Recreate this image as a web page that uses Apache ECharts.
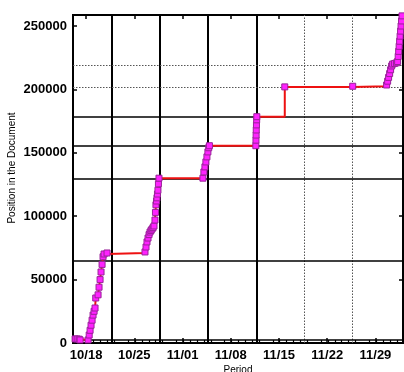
<!DOCTYPE html>
<html>
<head>
<meta charset="utf-8">
<script src="https://cdn.jsdelivr.net/npm/echarts@6/dist/echarts.min.js"></script>
<style>
html,body{margin:0;padding:0;background:#fff;}
#c{width:404px;height:372px;}
</style>
</head>
<body>
<div id="c"></div>
<script>
// Tick labels (x axis: days counted from 10/18)
const xTickLabels = ['10/18','10/25','11/01','11/08','11/15','11/22','11/29'];
const xTickDays = [0, 7, 14, 21, 28, 35, 42];
const yTicks = [0, 50000, 100000, 150000, 200000, 250000];

// Reference lines
const eventDaysSolid = [3.7, 10.7, 17.7, 24.7];
const eventDaysDotted = [31.7, 38.7];
const sectionSolid = [2500, 64900, 129900, 155600, 178500];
const sectionDotted = [201600, 218700];

// Series: day offset from 10/18 and position in the document
const dayOffsets = [
  -1.59, -1.30, -1.01, -0.87,
  0.29, 0.45, 0.58, 0.72, 0.87, 1.01, 1.16, 1.30,
  1.40,
  1.74, 1.88, 2.03, 2.17, 2.32, 2.46, 2.61, 3.04,
  8.55, 8.70, 8.84, 8.99, 9.14, 9.28, 9.43, 9.57, 9.72, 9.86, 10.00, 10.07, 10.14, 10.22, 10.29, 10.36, 10.43, 10.50, 10.58,
  16.96, 17.10, 17.25, 17.39, 17.54, 17.68, 17.80, 17.90,
  24.64, 24.66, 24.68, 24.70, 24.73, 24.76, 24.78,
  28.84,
  38.70,
  43.62, 43.77, 43.91, 44.06, 44.20, 44.35, 44.50, 44.78, 45.07,
  45.22, 45.30, 45.37, 45.44, 45.51, 45.58, 45.65, 45.72, 45.79, 45.86
];
const positions = [
  3200, 3200, 3000, 2400,
  2400, 6300, 10000, 14000, 18000, 22000, 25000, 27600,
  35500,
  38000, 44000, 50000, 56000, 62000, 68000, 70200, 71000,
  71800, 75700, 79700, 82800, 85500, 87500, 88800, 89900, 91000, 92300, 97000, 103000, 109000, 112000, 114500, 117500, 120500, 125500, 130000,
  130000, 134900, 138900, 142800, 146800, 150700, 154000, 155600,
  155600, 160000, 164000, 168000, 172000, 176000, 178500,
  202000,
  202500,
  203500, 206500, 209500, 212500, 215500, 218500, 220000, 220500, 221000,
  222000, 226000, 230000, 234000, 238000, 242000, 246000, 250000, 254000, 258000
];

const seriesData = dayOffsets.map((d, i) => [d, positions[i]]);

const solidStyle = {color: '#000', width: 1.6, type: 'solid'};
const dottedStyle = {color: '#555', width: 1, type: [1.5, 1.5]};
const markData = []
  .concat(eventDaysSolid.map(v => ({xAxis: v, lineStyle: Object.assign({}, solidStyle, {width: 2})})))
  .concat(eventDaysDotted.map(v => ({xAxis: v, lineStyle: dottedStyle})))
  .concat(sectionSolid.map(v => ({yAxis: v, lineStyle: solidStyle})))
  .concat(sectionDotted.map(v => ({yAxis: v, lineStyle: dottedStyle})));

const FONT = 'Liberation Sans';
const xMin = -1.9, xMax = 46.0, yMin = 0, yMax = 258700;

const chart = echarts.init(document.getElementById('c'), null, {renderer: 'canvas'});
chart.setOption({
  animation: false,
  backgroundColor: '#fff',
  grid: {left: 73, right: 1, top: 15, bottom: 29, containLabel: false, outerBoundsMode: 'none',
         show: true, borderColor: '#000', borderWidth: 2, backgroundColor: 'transparent'},
  xAxis: [{
    type: 'value', min: xMin, max: xMax, interval: 7,
    position: 'bottom',
    name: 'Period', nameLocation: 'middle', nameGap: 22, nameMoveOverlap: false,
    nameTextStyle: {fontFamily: FONT, fontSize: 10, color: '#000'},
    axisLine: {show: true, onZero: false, lineStyle: {color: '#000', width: 2}},
    axisTick: {show: true, inside: true, length: 5, customValues: xTickDays, lineStyle: {color: '#000', width: 1.5}},
    minorTick: {show: true, splitNumber: 7, length: 3, lineStyle: {color: '#000', width: 1.2}},
    axisLabel: {customValues: xTickDays, formatter: v => xTickLabels[xTickDays.indexOf(v)], fontFamily: FONT, fontSize: 13, fontWeight: 'bold', color: '#000', margin: 6},
    splitLine: {show: false}
  }, {
    type: 'value', min: xMin, max: xMax, interval: 7,
    position: 'top',
    axisLine: {show: false, onZero: false},
    axisTick: {show: true, inside: true, length: 4, customValues: xTickDays, lineStyle: {color: '#000', width: 1.5}},
    axisLabel: {show: false},
    splitLine: {show: false}
  }],
  yAxis: [{
    type: 'value', min: yMin, max: yMax, interval: 50000,
    position: 'left',
    name: 'Position in the Document', nameLocation: 'middle', nameGap: 56, nameMoveOverlap: false,
    nameTextStyle: {fontFamily: FONT, fontSize: 10, color: '#000', padding: [0, 0, 0, 22]},
    axisLine: {show: true, onZero: false, lineStyle: {color: '#000', width: 2}},
    axisTick: {show: true, inside: true, length: 4, customValues: yTicks, lineStyle: {color: '#000', width: 1.5}},
    axisLabel: {customValues: yTicks, formatter: v => String(v), fontFamily: FONT, fontSize: 13, fontWeight: 'bold', color: '#000', margin: 6},
    splitLine: {show: false}
  }, {
    type: 'value', min: yMin, max: yMax, interval: 50000,
    position: 'right',
    axisLine: {show: false, onZero: false},
    axisTick: {show: true, inside: true, length: 4, customValues: yTicks, lineStyle: {color: '#000', width: 1.5}},
    axisLabel: {show: false},
    splitLine: {show: false}
  }],
  series: [{
    type: 'line',
    data: [],
    z: 1,
    silent: true,
    markLine: {silent: true, symbol: ['none', 'none'], label: {show: false}, animation: false, data: markData}
  }, {
    type: 'line',
    data: seriesData,
    step: 'end',
    z: 5,
    clip: true,
    lineStyle: {color: '#ee1111', width: 2},
    symbol: 'rect',
    symbolSize: 6,
    showAllSymbol: true,
    itemStyle: {color: '#ff22ff', borderColor: '#992299', borderWidth: 1}
  }]
});
</script>
</body>
</html>
